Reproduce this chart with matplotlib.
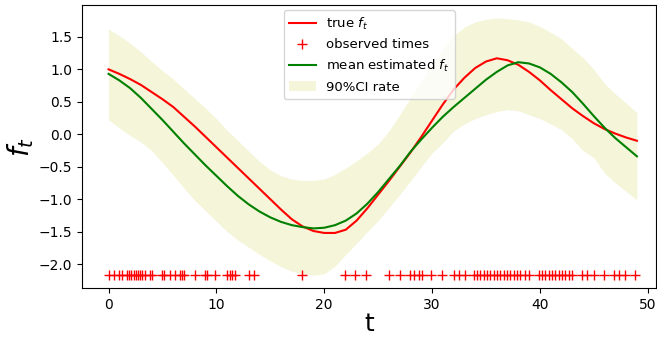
import numpy as np
import matplotlib
matplotlib.use('Agg')
import matplotlib.pyplot as plt

# time grid and curves
t = np.arange(50)
true_f = [1.00, 0.93, 0.85, 0.76, 0.65, 0.54, 0.42, 0.27, 0.12, -0.04,
          -0.20, -0.36, -0.52, -0.68, -0.84, -1.00, -1.16, -1.31, -1.42, -1.49,
          -1.52, -1.52, -1.47, -1.33, -1.14, -0.93, -0.72, -0.50, -0.28, -0.04,
          0.21, 0.46, 0.69, 0.87, 1.02, 1.12, 1.17, 1.14, 1.07, 0.96,
          0.83, 0.68, 0.54, 0.40, 0.28, 0.17, 0.08, 0.01, -0.05, -0.10]
mean_f = [0.93, 0.83, 0.71, 0.56, 0.39, 0.22, 0.04, -0.14, -0.31, -0.48,
          -0.64, -0.80, -0.95, -1.08, -1.19, -1.28, -1.35, -1.40, -1.43, -1.45,
          -1.44, -1.40, -1.33, -1.22, -1.07, -0.89, -0.69, -0.49, -0.27, -0.08,
          0.10, 0.27, 0.42, 0.56, 0.70, 0.84, 0.96, 1.06, 1.11, 1.09,
          1.03, 0.93, 0.80, 0.65, 0.47, 0.28, 0.10, -0.06, -0.20, -0.34]
ci_upper = [1.62, 1.52, 1.40, 1.27, 1.12, 0.98, 0.85, 0.70, 0.55, 0.40,
            0.24, 0.06, -0.10, -0.26, -0.42, -0.55, -0.64, -0.69, -0.71, -0.71,
            -0.69, -0.62, -0.52, -0.41, -0.29, -0.15, 0.05, 0.30, 0.56, 0.82,
            1.08, 1.32, 1.52, 1.65, 1.73, 1.77, 1.79, 1.78, 1.76, 1.73,
            1.66, 1.57, 1.47, 1.32, 1.18, 1.00, 0.78, 0.62, 0.48, 0.33]
ci_lower = [0.22, 0.10, -0.02, -0.12, -0.25, -0.44, -0.63, -0.83, -1.02, -1.18,
            -1.34, -1.50, -1.63, -1.74, -1.85, -1.95, -2.04, -2.11, -2.15, -2.17,
            -2.15, -2.03, -1.85, -1.68, -1.50, -1.33, -1.13, -0.93, -0.72, -0.50,
            -0.29, -0.13, 0.05, 0.16, 0.24, 0.30, 0.35, 0.38, 0.36, 0.30,
            0.24, 0.16, 0.07, -0.07, -0.25, -0.36, -0.60, -0.75, -0.88, -1.01]
obs_times = [0.0, 0.46, 0.93, 1.24, 1.70, 1.92, 2.11, 2.32, 2.54, 2.72,
             2.94, 3.09, 3.40, 3.87, 4.02, 4.95, 5.10, 5.72, 6.19, 6.65,
             6.81, 6.96, 8.04, 8.97, 9.13, 9.90, 10.98, 11.29, 11.45, 11.75,
             12.99, 13.45, 17.94, 21.96, 22.89, 23.9, 25.97, 27.0, 27.99, 28.29,
             28.76, 29.07, 29.94, 30.92, 32.0, 32.47, 33.09, 33.86, 34.17, 34.48,
             34.79, 35.1, 35.41, 35.71, 36.02, 36.34, 36.65, 36.96, 37.26, 37.57,
             37.88, 38.19, 38.65, 38.96, 39.89, 40.2, 40.51, 40.82, 41.13, 41.44,
             41.74, 42.06, 42.37, 42.67, 42.99, 43.91, 44.38, 44.99, 45.92, 46.85,
             47.31, 47.93, 48.86]
obs_level = -2.17

fig = plt.figure(figsize=(6.57, 3.37), dpi=100)
ax = fig.add_axes([0.125, 0.145, 0.874, 0.840])

ax.plot(t, true_f, color='red', lw=1.5, label='true $f_t$')
ax.plot(obs_times, [obs_level] * len(obs_times), color='red', marker='+',
        linestyle='None', markersize=7, label='observed times')
ax.plot(t, mean_f, color='green', lw=1.5, label='mean estimated $f_t$')
ax.fill_between(t, ci_lower, ci_upper, color='y', alpha=0.15, linewidth=0,
                label='90%CI rate')

ax.set_xlim(-2.45, 50.8)
ax.set_ylim(-2.37, 1.99)
ax.set_yticks([-2.0, -1.5, -1.0, -0.5, 0.0, 0.5, 1.0, 1.5])
ax.set_xlabel('t', fontsize=18, labelpad=0)
ax.set_ylabel('$f_t$', fontsize=20, labelpad=2)
ax.legend(loc='upper center', fontsize=9.5, borderaxespad=0.4)

fig.savefig('out.png', dpi=100)
